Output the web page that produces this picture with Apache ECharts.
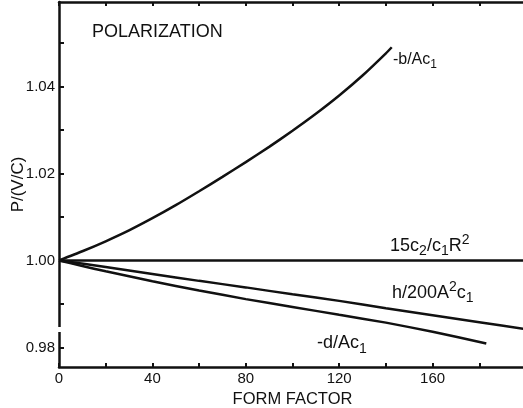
<!DOCTYPE html>
<html>
<head>
<meta charset="utf-8">
<script src="https://cdn.jsdelivr.net/npm/echarts@6.0.0/dist/echarts.min.js"></script>
<style>
  html, body { margin: 0; padding: 0; background: #fff; }
  #chart { width: 523px; height: 408px; }
</style>
</head>
<body>
<div id="chart"></div>
<script>
// form factor values and P/(V/C)
var bX = [0, 10, 20, 30, 40, 50, 60, 70, 80, 90, 100, 110, 120, 130, 140, 142.5];
var bY = [1.0, 1.0021, 1.0044, 1.0069, 1.0097, 1.0127, 1.0159, 1.0192, 1.0226, 1.0261, 1.0298, 1.0337, 1.0379, 1.0425, 1.0476, 1.0490];

var cX = [0, 200];
var cY = [1.0, 1.0];

var hX = [0, 20, 40, 60, 80, 100, 120, 140, 160, 180, 200];
var hY = [1.0, 0.9985, 0.9969, 0.9953, 0.9938, 0.9922, 0.9907, 0.9890, 0.9874, 0.9858, 0.9842];

var dX = [0, 10, 20, 40, 60, 80, 100, 120, 140, 160, 183];
var dY = [1.0, 0.9987, 0.9975, 0.9952, 0.9931, 0.9911, 0.9893, 0.9875, 0.9857, 0.9836, 0.9809];

var xTicks = [0, 20, 40, 60, 80, 100, 120, 140, 160, 180, 200];
var xLabels = [0, 40, 80, 120, 160];
var yTicks = [0.98, 0.99, 1.00, 1.01, 1.02, 1.03, 1.04, 1.05];
var yLabels = [0.98, 1.00, 1.02, 1.04];

var ink = '#111';
var font = 'Liberation Sans';

function pairs(xs, ys) {
  var res = [];
  for (var i = 0; i < xs.length; i++) {
    res.push([xs[i], ys[i]]);
  }
  return res;
}

function richFor(size) {
  var s = Math.round(size * 0.78);
  var off = Math.round(size * 0.6);
  return {
    m: { fontFamily: font, fontSize: size, color: ink },
    sub: { fontFamily: font, fontSize: s, color: ink, verticalAlign: 'top', padding: [off, 0, 0, 0] },
    sup: { fontFamily: font, fontSize: s, color: ink, verticalAlign: 'bottom', padding: [0, 0, off, 0] }
  };
}

function curveLabel(x, y, text, size) {
  return {
    symbol: 'circle',
    symbolSize: 0,
    silent: true,
    label: { show: true, position: 'right', distance: 0, formatter: text, rich: richFor(size) },
    data: [{ coord: [x, y] }]
  };
}

function lineSeries(data, mark) {
  return {
    type: 'line',
    data: data,
    showSymbol: false,
    smooth: 0.2,
    lineStyle: { color: ink, width: 2.5 },
    markPoint: mark
  };
}

var chart = echarts.init(document.getElementById('chart'));
var axisStyle = { lineStyle: { color: ink, width: 2.5 } };

chart.setOption({
  animation: false,
  backgroundColor: '#fff',
  title: {
    text: 'POLARIZATION',
    left: 92, top: 23, padding: 0,
    textStyle: { fontFamily: font, fontSize: 18, fontWeight: 'normal', color: ink }
  },
  grid: { left: 59, right: -3, top: 2, bottom: 41, containLabel: false, outerBoundsMode: 'none' },
  xAxis: [{
    type: 'value', min: 0, max: 200, position: 'bottom',
    name: 'FORM FACTOR', nameLocation: 'middle', nameGap: 22,
    nameTextStyle: { fontFamily: font, fontSize: 16.5, color: ink },
    axisLine: axisStyle,
    axisTick: { inside: true, length: 4, customValues: xTicks, lineStyle: { color: ink, width: 2 } },
    axisLabel: { customValues: xLabels, margin: 4, fontFamily: font, fontSize: 15, color: ink },
    splitLine: { show: false }
  }, {
    type: 'value', min: 0, max: 200, position: 'top',
    axisLine: axisStyle,
    axisTick: { inside: true, length: 4, customValues: xTicks, lineStyle: { color: ink, width: 2 } },
    axisLabel: { show: false },
    splitLine: { show: false }
  }],
  yAxis: {
    type: 'value', min: 0.9755, max: 1.0594,
    name: 'P/(V/C)', nameLocation: 'middle', nameGap: 32, nameMoveOverlap: false,
    nameTextStyle: { fontFamily: font, fontSize: 17, color: ink },
    axisLine: axisStyle,
    axisTick: { inside: true, length: 5, customValues: yTicks, lineStyle: { color: ink, width: 2 } },
    axisLabel: {
      customValues: yLabels, margin: 4, fontFamily: font, fontSize: 15, color: ink,
      formatter: function (v) { return v.toFixed(2); }
    },
    splitLine: { show: false }
  },
  graphic: [
    // hand-drawn break in the vertical axis
    { type: 'rect', shape: { x: 55, y: 327, width: 8, height: 5 }, style: { fill: '#fff' }, z: 100 }
  ],
  series: [
    lineSeries(pairs(bX, bY), curveLabel(143, 1.0462, '{m|-b/Ac}{sub|1}', 16)),
    lineSeries(pairs(cX, cY), curveLabel(141.8, 1.0034, '{m|15c}{sub|2}{m|/c}{sub|1}{m|R}{sup|2}', 18)),
    lineSeries(pairs(hX, hY), curveLabel(142.6, 0.9925, '{m|h/200A}{sup|2}{m|c}{sub|1}', 18)),
    lineSeries(pairs(dX, dY), curveLabel(110.5, 0.9809, '{m|-d/Ac}{sub|1}', 18))
  ]
});
</script>
</body>
</html>
